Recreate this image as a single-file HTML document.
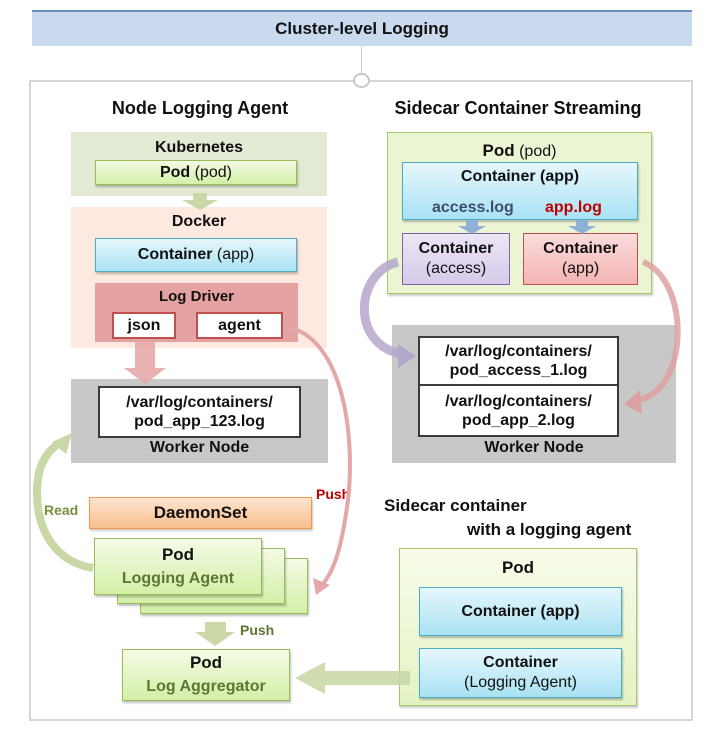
<!DOCTYPE html>
<html><head><meta charset="utf-8"><style>
*{margin:0;padding:0;box-sizing:border-box}
body{width:718px;height:736px;background:#fff;position:relative;overflow:hidden;font-family:"Liberation Sans","Noto Sans CJK KR",sans-serif;color:#111}
.a{position:absolute}
.c{display:flex;flex-direction:column;align-items:center;justify-content:center;text-align:center}
.b{font-weight:bold}
.green{background:linear-gradient(#f4fbe6,#d4efa7);border:1.5px solid #9bbb59;box-shadow:1px 2px 2px rgba(0,0,0,.25)}
.blue{background:linear-gradient(#e6f7fc,#a9e2f3);border:1.5px solid #4bacc6;box-shadow:1px 2px 2px rgba(0,0,0,.25)}
.t{font-size:16px}
</style></head><body>
<div class="a c b" style="left:32px;top:10px;width:660px;height:36px;background:#c9d9ee;border-top:2px solid #6b8fc0;font-size:17px">Cluster-level Logging</div>
<div class="a" style="left:361px;top:46px;width:1px;height:28px;background:#ccc"></div>
<div class="a" style="left:29px;top:80px;width:664px;height:641px;border:2px solid #d6d6d6"></div>
<div class="a" style="left:353px;top:73px;width:17px;height:15px;border-radius:50%;border:2px solid #c8c8c8;background:#fff"></div>

<div class="a b" style="left:71px;top:98px;width:258px;text-align:center;font-size:18px">Node Logging Agent</div>
<div class="a" style="left:71px;top:132px;width:256px;height:64px;background:#e2ead3"></div>
<div class="a b t" style="left:71px;top:139px;width:256px;text-align:center">Kubernetes</div>
<div class="a c green t" style="left:95px;top:160px;width:202px;height:25px"><span><b>Pod</b> (pod)</span></div>
<div class="a" style="left:71px;top:207px;width:256px;height:141px;background:#fde9df"></div>
<svg class="a" style="left:0;top:0" width="718" height="736">
<polygon points="193,193 207,193 207,200 218,200 200,210 182,200 193,200" fill="#c9d8a6"/>
</svg>
<div class="a b t" style="left:71px;top:213px;width:256px;text-align:center">Docker</div>
<div class="a c blue t" style="left:95px;top:238px;width:202px;height:34px"><span><b>Container</b> (app)</span></div>
<div class="a" style="left:95px;top:283px;width:203px;height:59px;background:#e4a3a2"></div>
<div class="a b" style="left:95px;top:288px;width:203px;text-align:center;font-size:15px">Log Driver</div>
<div class="a c b t" style="left:112px;top:312px;width:64px;height:27px;background:#fff;border:2px solid #c0504d">json</div>
<div class="a c b t" style="left:196px;top:312px;width:87px;height:27px;background:#fff;border:2px solid #c0504d">agent</div>
<div class="a" style="left:71px;top:379px;width:257px;height:84px;background:#c8c8c8"></div>
<div class="a c b t" style="left:98px;top:386px;width:203px;height:52px;background:#fff;border:2.5px solid #3a3a3a;line-height:19px">/var/log/containers/<br>pod_app_123.log</div>
<div class="a b t" style="left:71px;top:439px;width:257px;text-align:center">Worker Node</div>

<div class="a b" style="left:44px;top:502px;color:#76923c;font-size:14px">Read</div>
<div class="a b" style="left:316px;top:486px;color:#c00000;font-size:14px">Push</div>
<div class="a c b" style="left:89px;top:497px;width:223px;height:32px;background:linear-gradient(#fde4cf,#f9bf8f);border:1.5px solid #f79646;font-size:17px;box-shadow:1px 2px 2px rgba(0,0,0,.2)">DaemonSet</div>
<div class="a green" style="left:140px;top:558px;width:168px;height:56px"></div>
<div class="a green" style="left:117px;top:548px;width:168px;height:56px"></div>
<div class="a c green" style="left:94px;top:538px;width:168px;height:57px;line-height:24px"><span class="b" style="font-size:17px">Pod</span><span class="b" style="color:#5f7530;font-size:16px">Logging Agent</span></div>
<div class="a b" style="left:240px;top:622px;color:#5f7530;font-size:14px">Push</div>
<div class="a c green" style="left:122px;top:649px;width:168px;height:52px;line-height:24px"><span class="b" style="font-size:17px">Pod</span><span class="b" style="color:#5f7530;font-size:16px">Log Aggregator</span></div>

<div class="a b" style="left:380px;top:98px;width:276px;text-align:center;font-size:18px">Sidecar Container Streaming</div>
<div class="a" style="left:387px;top:132px;width:265px;height:162px;background:#ebf5d4;border:1.5px solid #a8c868;box-shadow:1px 2px 2px rgba(0,0,0,.2)"></div>
<div class="a t" style="left:387px;top:141px;width:265px;text-align:center"><b style="font-size:17px">Pod</b> (pod)</div>
<div class="a blue" style="left:402px;top:162px;width:236px;height:58px"></div>
<div class="a b t" style="left:402px;top:168px;width:236px;text-align:center">Container (app)</div>
<div class="a b t" style="left:432px;top:199px;color:#3f4f6a">access.log</div>
<div class="a b t" style="left:545px;top:199px;color:#c00000">app.log</div>
<div class="a c t" style="left:402px;top:233px;width:108px;height:52px;background:linear-gradient(#ece6f5,#d6c9ea);border:1.5px solid #8064a2;line-height:20px"><b>Container</b><span>(access)</span></div>
<div class="a c t" style="left:523px;top:233px;width:115px;height:52px;background:linear-gradient(#fbdcdc,#f4b4b4);border:1.5px solid #c0504d;line-height:20px"><b>Container</b><span>(app)</span></div>
<div class="a" style="left:392px;top:325px;width:284px;height:138px;background:#c8c8c8"></div>
<div class="a c b t" style="left:418px;top:336px;width:201px;height:101px;background:#fff;border:2.5px solid #3a3a3a"></div>
<div class="a c b t" style="left:420px;top:338px;width:197px;height:48px;line-height:19px;border-bottom:2.5px solid #3a3a3a">/var/log/containers/<br>pod_access_1.log</div>
<div class="a c b t" style="left:420px;top:387px;width:197px;height:48px;line-height:19px">/var/log/containers/<br>pod_app_2.log</div>
<div class="a b t" style="left:392px;top:439px;width:284px;text-align:center">Worker Node</div>

<div class="a b" style="left:384px;top:496px;font-size:17px">Sidecar container</div>
<div class="a b" style="left:467px;top:520px;font-size:17px">with a logging agent</div>
<div class="a" style="left:399px;top:548px;width:238px;height:158px;background:linear-gradient(#f7fce9,#e4f3c4);border:1.5px solid #a8c868;box-shadow:1px 2px 2px rgba(0,0,0,.2)"></div>
<div class="a b" style="left:399px;top:558px;width:238px;text-align:center;font-size:17px">Pod</div>
<div class="a c b t blue" style="left:419px;top:587px;width:203px;height:49px">Container (app)</div>
<div class="a c t blue" style="left:419px;top:648px;width:203px;height:50px;line-height:20px"><b>Container</b><span>(Logging Agent)</span></div>

<svg class="a" style="left:0;top:0" width="718" height="736">
<polygon points="135,342 155,342 155,368 166,368 145,384 124,368 135,368" fill="#e7a9aa" opacity=".9"/>
<polygon points="205,622 226,622 226,632 235,632 215,646 195,632 205,632" fill="#c9d8a6"/>
<polygon points="466,220 478,220 478,226 486,226 472,234 458,226 466,226" fill="#8fb1d6"/>
<polygon points="576,220 588,220 588,226 596,226 582,234 568,226 576,226" fill="#8fb1d6"/>
<polygon points="410,671 325,671 325,662 295,678 325,694 325,685 410,685" fill="#c9d8a6" opacity=".9"/>
<path d="M93,568 C55,562 37,530 37,492 C37,468 45,452 60,443" stroke="#c9d8a6" stroke-width="8" fill="none"/>
<polygon points="72,433 52,442 66,454" fill="#c9d8a6"/>
<path d="M292,328 C345,345 355,440 348,500 C342,545 335,570 322,585" stroke="#e3a7a8" stroke-width="4" fill="none"/>
<polygon points="316,595 313,578 330,585" fill="#e3a7a8"/>
<path d="M398,262 C355,272 350,345 402,354" stroke="#b5a6cc" stroke-width="9" fill="none" opacity=".85"/>
<polygon points="416,356 398,344 398,368" fill="#b5a6cc"/>
<path d="M643,262 C690,280 690,390 638,400" stroke="#dda0a0" stroke-width="6" fill="none" opacity=".85"/>
<polygon points="624,404 640,390 642,414" fill="#dda0a0"/>
</svg>
</body></html>
